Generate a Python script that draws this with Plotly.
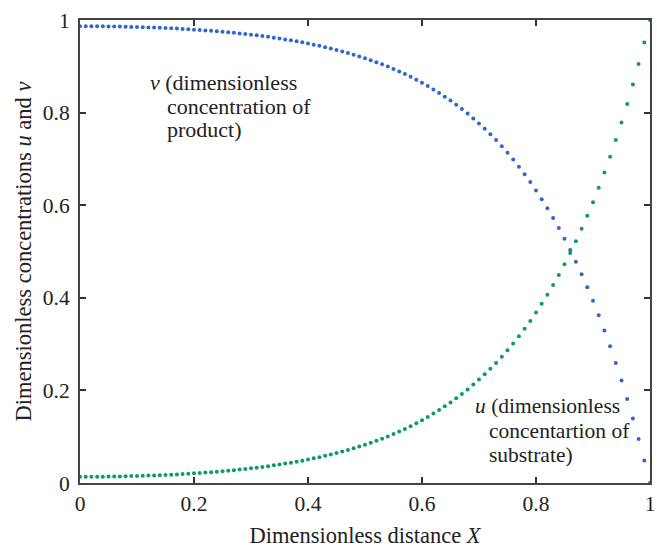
import plotly.graph_objects as go

# Sample positions (dimensionless distance X)
X = [round(i * 0.01, 2) for i in range(101)]

# u: dimensionless concentration of substrate
u = [
    0.0135, 0.0135, 0.0135, 0.0136, 0.0137, 0.0139, 0.0141, 0.0143, 0.0146, 0.0149,
    0.0152, 0.0156, 0.0160, 0.0164, 0.0169, 0.0174, 0.0180, 0.0186, 0.0193, 0.0200,
    0.0208, 0.0216, 0.0225, 0.0234, 0.0244, 0.0254, 0.0266, 0.0277, 0.0290, 0.0303,
    0.0317, 0.0332, 0.0347, 0.0364, 0.0381, 0.0399, 0.0419, 0.0439, 0.0461, 0.0483,
    0.0507, 0.0532, 0.0558, 0.0586, 0.0616, 0.0646, 0.0679, 0.0713, 0.0749, 0.0787,
    0.0826, 0.0868, 0.0912, 0.0958, 0.1007, 0.1058, 0.1112, 0.1169, 0.1228, 0.1291,
    0.1357, 0.1426, 0.1499, 0.1575, 0.1656, 0.1740, 0.1829, 0.1923, 0.2021, 0.2125,
    0.2233, 0.2348, 0.2468, 0.2594, 0.2727, 0.2867, 0.3013, 0.3168, 0.3330, 0.3501,
    0.3680, 0.3869, 0.4067, 0.4275, 0.4494, 0.4725, 0.4967, 0.5221, 0.5489, 0.5770,
    0.6066, 0.6377, 0.6704, 0.7047, 0.7409, 0.7788, 0.8188, 0.8608, 0.9049, 0.9513,
    1.0000,
]

# v: dimensionless concentration of product
v = [
    0.9865, 0.9865, 0.9865, 0.9864, 0.9863, 0.9861, 0.9859, 0.9857, 0.9854, 0.9851,
    0.9848, 0.9844, 0.9840, 0.9836, 0.9831, 0.9826, 0.9820, 0.9814, 0.9807, 0.9800,
    0.9792, 0.9784, 0.9775, 0.9766, 0.9756, 0.9746, 0.9734, 0.9723, 0.9710, 0.9697,
    0.9683, 0.9668, 0.9653, 0.9636, 0.9619, 0.9601, 0.9581, 0.9561, 0.9539, 0.9517,
    0.9493, 0.9468, 0.9442, 0.9414, 0.9384, 0.9354, 0.9321, 0.9287, 0.9251, 0.9213,
    0.9174, 0.9132, 0.9088, 0.9042, 0.8993, 0.8942, 0.8888, 0.8831, 0.8772, 0.8709,
    0.8643, 0.8574, 0.8501, 0.8425, 0.8344, 0.8260, 0.8171, 0.8077, 0.7979, 0.7875,
    0.7767, 0.7652, 0.7532, 0.7406, 0.7273, 0.7133, 0.6987, 0.6832, 0.6670, 0.6499,
    0.6320, 0.6131, 0.5933, 0.5725, 0.5506, 0.5275, 0.5033, 0.4779, 0.4511, 0.4230,
    0.3934, 0.3623, 0.3296, 0.2953, 0.2591, 0.2212, 0.1812, 0.1392, 0.0951, 0.0487,
    0.0000,
]

tick_vals = [0, 0.2, 0.4, 0.6, 0.8, 1]
tick_text = ["0", "0.2", "0.4", "0.6", "0.8", "1"]

FONT = "Liberation Serif"
TXT = "#222222"
BLUE = "#2f68c8"
GREEN = "#0e9a62"

fig = go.Figure()
fig.add_trace(go.Scatter(x=X, y=v, mode="markers", name="v",
                         marker=dict(color=BLUE, size=4), cliponaxis=False))
fig.add_trace(go.Scatter(x=X, y=u, mode="markers", name="u",
                         marker=dict(color=GREEN, size=4), cliponaxis=False))

axis_common = dict(
    range=[0, 1], tickmode="array", tickvals=tick_vals, ticktext=tick_text,
    ticks="inside", ticklen=6, tickwidth=2, tickcolor="#333333",
    showline=True, linecolor="#444444", linewidth=2, mirror="allticks",
    showgrid=False, zeroline=False,
    tickfont=dict(family=FONT, size=21.5, color=TXT),
)

fig.update_xaxes(**axis_common,
                 title=dict(text="Dimensionless distance <i>X</i>",
                            font=dict(family=FONT, size=22.5, color=TXT), standoff=12))
fig.update_yaxes(**axis_common, ticklabelstandoff=4,
                 title=dict(text="Dimensionless concentrations <i>u</i> and <i>v</i>",
                            font=dict(family=FONT, size=22.5, color=TXT), standoff=5))

ann_font1 = dict(family=FONT, size=22, color=TXT)
ann_font2 = dict(family=FONT, size=21.5, color=TXT)
annotations = [
    dict(x=0.119, y=0.865, text="<i>v</i> (dimensionless", font=ann_font1),
    dict(x=0.149, y=0.814, text="concentration of", font=ann_font1),
    dict(x=0.149, y=0.763, text="product)", font=ann_font1),
    dict(x=0.690, y=0.166, text="<i>u</i> (dimensionless", font=ann_font2),
    dict(x=0.714, y=0.112, text="concentartion of", font=ann_font2),
    dict(x=0.714, y=0.060, text="substrate)", font=ann_font2),
]
for a in annotations:
    a.update(xref="x", yref="y", xanchor="left", yanchor="middle", showarrow=False)

fig.update_layout(
    width=657, height=548,
    margin=dict(l=80, r=7, t=20, b=65, autoexpand=False),
    paper_bgcolor="white", plot_bgcolor="white",
    showlegend=False,
    annotations=annotations,
)

fig.write_html(
    "out.html",
    config={"displayModeBar": False},
    post_script="document.body.style.margin='0';document.body.style.overflow='hidden';",
)
